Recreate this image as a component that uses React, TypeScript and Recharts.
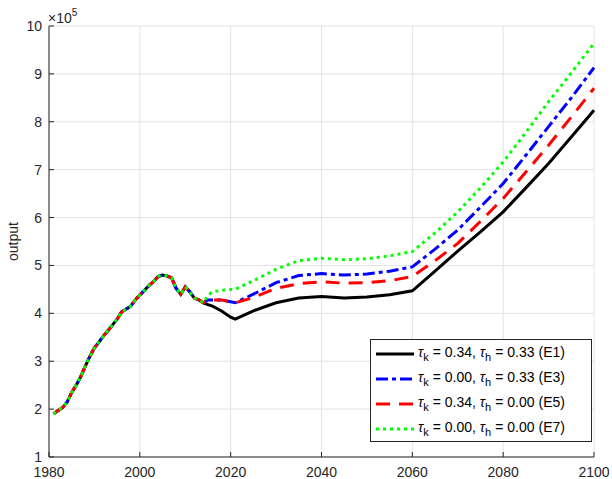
import { LineChart, Line, XAxis, YAxis, CartesianGrid } from 'recharts';

// historical output (x 10^5), identical for every scenario
const histYears = [
  1981, 1982, 1983, 1984, 1985, 1986, 1987, 1988, 1989, 1990, 1991, 1992,
  1993, 1994, 1995, 1996, 1997, 1998, 1999, 2000, 2001, 2002, 2003, 2004,
  2005, 2006, 2007, 2008, 2009, 2010, 2011, 2012, 2013, 2014,
];
const histOutput = [
  1.9, 1.97, 2.03, 2.15, 2.35, 2.5, 2.68, 2.9, 3.1, 3.28, 3.4, 3.53,
  3.64, 3.76, 3.88, 4.03, 4.09, 4.15, 4.28, 4.38, 4.48, 4.58, 4.66, 4.77,
  4.8, 4.78, 4.74, 4.52, 4.4, 4.55, 4.45, 4.32, 4.28, 4.22,
];

// projections
const projYears = [
  2015, 2016, 2018, 2020, 2021, 2025, 2030, 2035, 2040, 2045, 2050, 2055,
  2060, 2065, 2070, 2075, 2080, 2085, 2090, 2095, 2100,
];
const e1 = [
  4.18, 4.15, 4.05, 3.92, 3.88, 4.05, 4.22, 4.32, 4.35, 4.32, 4.34, 4.39,
  4.47, 4.88, 5.3, 5.7, 6.12, 6.62, 7.13, 7.68, 8.24,
];
const e3 = [
  4.28, 4.28, 4.28, 4.24, 4.22, 4.4, 4.64, 4.79, 4.83, 4.8, 4.82, 4.88,
  4.97, 5.34, 5.74, 6.22, 6.71, 7.3, 7.9, 8.5, 9.13,
];
const e5 = [
  4.28, 4.28, 4.28, 4.24, 4.22, 4.33, 4.52, 4.62, 4.66, 4.63, 4.64, 4.68,
  4.77, 5.1, 5.46, 5.92, 6.4, 6.95, 7.51, 8.1, 8.7,
];
const e7 = [
  4.38, 4.45, 4.48, 4.5, 4.5, 4.68, 4.92, 5.1, 5.15, 5.12, 5.14, 5.2,
  5.29, 5.68, 6.12, 6.62, 7.16, 7.78, 8.42, 9.02, 9.64,
];

const xTicks = [1980, 2000, 2020, 2040, 2060, 2080, 2100];
const yTicks = [1, 2, 3, 4, 5, 6, 7, 8, 9, 10];

const seriesKeys = ['e1', 'e3', 'e5', 'e7'];
const tauK = ['0.34', '0.00', '0.34', '0.00'];
const tauH = ['0.33', '0.33', '0.00', '0.00'];
const tags = ['E1', 'E3', 'E5', 'E7'];

const styles: Record<string, { color: string; dash?: string }> = {
  e1: { color: '#000000' },
  e3: { color: '#0000ff', dash: '12 4 4 4' },
  e5: { color: '#ff0000', dash: '14 9' },
  e7: { color: '#00ff00', dash: '3 4' },
};

const data = [
  ...histYears.map((year, i) => ({
    year,
    e1: histOutput[i],
    e3: histOutput[i],
    e5: histOutput[i],
    e7: histOutput[i],
  })),
  ...projYears.map((year, i) => ({ year, e1: e1[i], e3: e3[i], e5: e5[i], e7: e7[i] })),
];

const FONT = '"Liberation Sans", Arial, Helvetica, sans-serif';
const AXIS = '#262626';

const subStyle = { fontSize: 11, marginRight: 4 };

// legend drawn as a plain overlay so it does not take space from the plot
function LegendBox() {
  return (
    <div
      style={{
        position: 'absolute',
        left: 370,
        top: 339,
        width: 222,
        height: 103,
        border: '1px solid #262626',
        background: '#fff',
        fontFamily: FONT,
        fontSize: 14,
        color: '#000',
        paddingTop: 1,
        boxSizing: 'border-box',
      }}
    >
      {seriesKeys.map((key, i) => (
        <div key={key} style={{ display: 'flex', alignItems: 'center', height: 25, whiteSpace: 'nowrap' }}>
          <svg width={46} height={10} style={{ flex: 'none' }}>
            <line
              x1={5}
              x2={43}
              y1={5}
              y2={5}
              stroke={styles[key].color}
              strokeWidth={3}
              strokeDasharray={styles[key].dash}
            />
          </svg>
          <span style={{ marginLeft: 1 }}>
            <i>τ</i>
            <sub style={subStyle}>k</sub>= {tauK[i]}, <i>τ</i>
            <sub style={subStyle}>h</sub>= {tauH[i]} ({tags[i]})
          </span>
        </div>
      ))}
    </div>
  );
}

export default function App() {
  const tickStyle = { fill: AXIS, fontSize: 14, fontFamily: FONT };
  return (
    <div style={{ position: 'absolute', left: 0, top: 0, width: 612, height: 479, background: '#fff' }}>
      <LineChart width={612} height={479} data={data} margin={{ top: 26, right: 18, bottom: 0, left: 0 }}>
        <CartesianGrid stroke="#e3e3e3" strokeWidth={1} horizontalValues={yTicks} verticalValues={xTicks} />
        <XAxis
          dataKey="year"
          type="number"
          domain={[1980, 2100]}
          ticks={xTicks}
          height={22}
          tick={tickStyle}
          tickSize={-5}
          tickMargin={15}
          stroke={AXIS}
          interval={0}
        />
        <XAxis
          xAxisId="top"
          orientation="top"
          dataKey="year"
          type="number"
          domain={[1980, 2100]}
          ticks={xTicks}
          height={0}
          tickSize={-5}
          tickFormatter={() => ''}
          stroke={AXIS}
          interval={0}
        />
        <YAxis
          type="number"
          domain={[1, 10]}
          ticks={yTicks}
          width={49}
          tick={tickStyle}
          tickSize={-5}
          tickMargin={12}
          stroke={AXIS}
          interval={0}
        />
        <YAxis
          yAxisId="right"
          orientation="right"
          type="number"
          domain={[1, 10]}
          ticks={yTicks}
          width={0}
          tickSize={-5}
          tickFormatter={() => ''}
          stroke={AXIS}
          interval={0}
        />
        {seriesKeys.map((key) => (
          <Line
            key={key}
            dataKey={key}
            type="linear"
            stroke={styles[key].color}
            strokeWidth={3}
            strokeDasharray={styles[key].dash}
            dot={false}
            activeDot={false}
            isAnimationActive={false}
          />
        ))}
      </LineChart>
      <LegendBox />
      <svg
        width={612}
        height={479}
        style={{ position: 'absolute', left: 0, top: 0, pointerEvents: 'none' }}
      >
        <text x={48} y={23} fontSize={14} fontFamily={FONT} fill={AXIS}>
          ×10
          <tspan dy={-7} fontSize={10}>
            5
          </tspan>
        </text>
        <text
          transform="translate(18,241.5) rotate(-90)"
          textAnchor="middle"
          fontSize={14}
          fontFamily={FONT}
          fill={AXIS}
        >
          output
        </text>
      </svg>
    </div>
  );
}
